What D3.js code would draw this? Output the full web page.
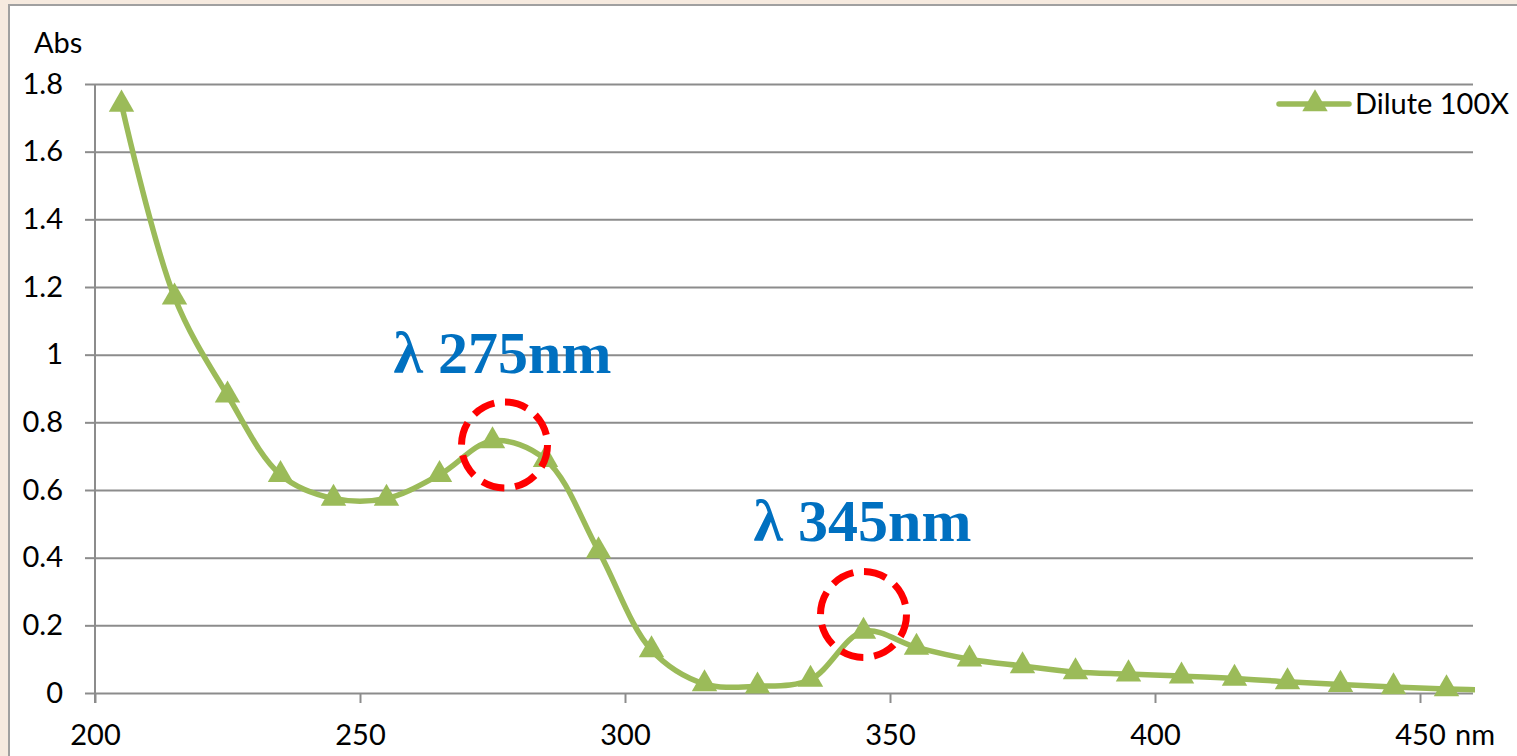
<!DOCTYPE html>
<html>
<head>
<meta charset="utf-8">
<script src="https://cdn.jsdelivr.net/npm/d3@7"></script>
<style>
  html, body { margin: 0; padding: 0; background: #f6eadf; }
  svg { display: block; }
  text { font-family: Lato, "Open Sans", sans-serif; fill: #000; }
</style>
</head>
<body>
<svg id="chart"></svg>
<script>
// wavelength (nm) and absorbance readings
var wavelengths = [205, 215, 225, 235, 245, 255, 265, 275, 285, 295, 305, 315, 325, 335, 345, 355, 365, 375, 385, 395, 405, 415, 425, 435, 445, 455];
var absorbance = [1.74, 1.17, 0.88, 0.645, 0.575, 0.575, 0.645, 0.745, 0.69, 0.42, 0.127, 0.027, 0.02, 0.04, 0.182, 0.135, 0.1, 0.08, 0.062, 0.056, 0.05, 0.043, 0.033, 0.025, 0.018, 0.012];
// trace keeps going past the last marker, to the end of the axis
var tailWavelength = [465];
var tailAbsorbance = [0.008];
var xTicks = [200, 250, 300, 350, 400, 450];
var yTicks = [0, 0.2, 0.4, 0.6, 0.8, 1, 1.2, 1.4, 1.6, 1.8];
var peaks = [275, 345];
var peakLabels = ["λ 275nm", "λ 345nm"];
var seriesName = "Dilute 100X";

var W = 1517, H = 756, FS = 29;
var GREEN = "#9bbb59", GRID = "#8c8c8c";
var mLeft = 95, mRight = 1473, mTop = 84, mBottom = 693;

var svg = d3.select("#chart").attr("width", W).attr("height", H);

// white panel with grey frame
svg.append("rect").attr("x", 9).attr("y", 5).attr("width", W).attr("height", H)
  .attr("fill", "#fff").attr("stroke", "#a0a0a0").attr("stroke-width", 2);

var x = d3.scaleLinear().domain([200, 460]).range([mLeft, mRight]);
var y = d3.scaleLinear().domain([0, 1.8]).range([mBottom, mTop]);

// horizontal gridlines + y axis
var yAxis = d3.axisLeft(y).tickValues(yTicks).tickSize(10).tickPadding(22)
  .tickFormat(function(d) { return String(+d.toFixed(1)); });
var gy = svg.append("g").attr("transform", "translate(" + mLeft + ",0)").call(yAxis);
gy.attr("font-size", FS).attr("font-family", "Lato");
gy.select(".domain").remove();
gy.selectAll(".tick line").attr("stroke", GRID).attr("stroke-width", 2);
gy.selectAll(".tick").append("line").attr("x1", 0).attr("x2", mRight - mLeft)
  .attr("stroke", GRID).attr("stroke-width", 2);
svg.append("line").attr("x1", mLeft).attr("x2", mLeft).attr("y1", mTop).attr("y2", mBottom + 10)
  .attr("stroke", GRID).attr("stroke-width", 2);

var xAxis = d3.axisBottom(x).tickValues(xTicks).tickSize(10).tickPadding(21);
var gx = svg.append("g").attr("transform", "translate(0," + mBottom + ")").call(xAxis);
gx.attr("font-size", FS).attr("font-family", "Lato");
gx.select(".domain").remove();
gx.selectAll(".tick line").attr("stroke", GRID).attr("stroke-width", 2);
svg.append("text").attr("x", x(450) + 35).attr("y", mBottom + 52).attr("font-size", FS).text("nm");
svg.append("text").attr("x", 34).attr("y", 53).attr("font-size", FS).text("Abs");

// the trace
var pts = wavelengths.map(function(w, i) { return [w, absorbance[i]]; });
var all = pts.concat(tailWavelength.map(function(w, i) { return [w, tailAbsorbance[i]]; }));
svg.append("clipPath").attr("id", "clip").append("rect")
  .attr("x", mLeft).attr("y", 0).attr("width", mRight - mLeft + 2).attr("height", H);
var line = d3.line().x(function(d) { return x(d[0]); }).y(function(d) { return y(d[1]); })
  .curve(d3.curveCatmullRom.alpha(0.5));
svg.append("path").datum(all).attr("d", line).attr("clip-path", "url(#clip)")
  .attr("fill", "none").attr("stroke", GREEN).attr("stroke-width", 5.5).attr("stroke-linejoin", "round");

var tri = d3.symbol().type(d3.symbolTriangle).size(280);
svg.selectAll("path.mk").data(pts).enter().append("path").attr("class", "mk")
  .attr("d", tri).attr("fill", GREEN)
  .attr("transform", function(d) { return "translate(" + x(d[0]) + "," + y(d[1]) + ")"; });

// peak annotations (hand placed in the original, so offsets differ per peak)
var peakVal = peaks.map(function(p) { return absorbance[wavelengths.indexOf(p)]; });
var circOff = [[12, 4], [0, -17]];
var labOff = [[10, -68], [-1, -90]];
svg.selectAll("circle.pk").data(peaks).enter().append("circle").attr("class", "pk")
  .attr("cx", function(d, i) { return x(d) + circOff[i][0]; })
  .attr("cy", function(d, i) { return y(peakVal[i]) + circOff[i][1]; })
  .attr("r", 43).attr("fill", "none").attr("stroke", "#ff0000")
  .attr("stroke-width", 7).attr("stroke-dasharray", "23,10.8");
svg.selectAll("text.pk").data(peakLabels).enter().append("text").attr("class", "pk")
  .attr("x", function(d, i) { return x(peaks[i]) + labOff[i][0]; })
  .attr("y", function(d, i) { return y(peakVal[i]) + labOff[i][1]; })
  .attr("text-anchor", "middle")
  .style("font-family", "'Liberation Serif', serif").style("font-weight", "bold")
  .style("font-size", "60px").style("fill", "#0070c0")
  .text(function(d) { return d; });

// legend
var lg = svg.append("g").attr("transform", "translate(1279,104)");
lg.append("line").attr("x1", 0).attr("x2", 70).attr("stroke", GREEN)
  .attr("stroke-width", 5.5).attr("stroke-linecap", "round");
lg.append("path").attr("d", tri).attr("fill", GREEN).attr("transform", "translate(36,0)");
lg.append("text").attr("x", 76).attr("y", 10).attr("font-size", FS).text(seriesName);
</script>
</body>
</html>
